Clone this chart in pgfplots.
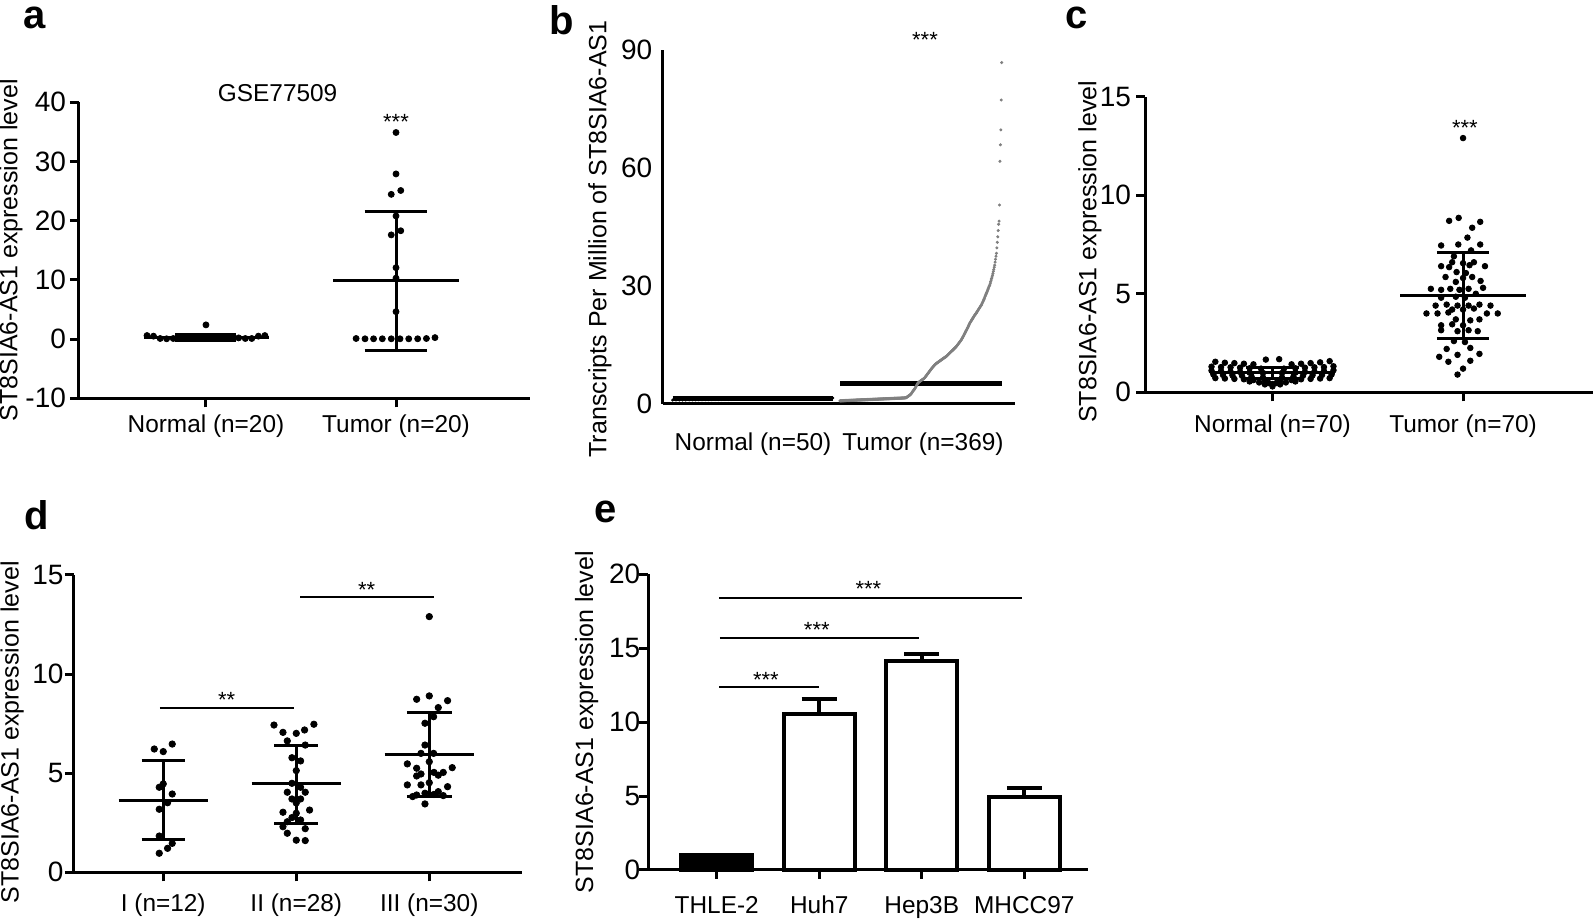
\documentclass[border=0pt]{standalone}
\usepackage{fontspec}
\setmainfont{Liberation Sans}
\usepackage{pgfplots}
\pgfplotsset{compat=1.18}
\definecolor{dotgray}{RGB}{128,128,128}
\pgfplotsset{
  panel/.style={
    anchor=south west, scale only axis, clip=false,
    axis lines*=left,
    axis line style={line width=1.5pt, black},
    tick align=outside, major tick length=4.5pt,
    tick style={line width=1.5pt, black},
    xticklabel style={font=\fontsize{12.2}{14}\selectfont},
    yticklabel style={font=\fontsize{14}{16}\selectfont},
    /pgf/number format/assume math mode=true,
    ylabel style={font=\fontsize{12.5}{14}\selectfont, anchor=center},
  },
  sd/.style={black, line width=1.5pt},
  dots/.style={only marks, mark=*, black, mark size=#1},
}
\tikzset{
  star/.style={font=\fontsize{11}{13}\selectfont, inner sep=0pt, yshift=-2.5pt},
  plabel/.style={font=\fontsize{20}{24}\selectfont\bfseries, inner sep=0pt},
}
\begin{document}
\begin{tikzpicture}
\useasboundingbox (0,0) rectangle (797.5pt,460pt);

% ---------------- panel a ----------------
\begin{axis}[panel, at={(39.5pt,260.85pt)}, width=225.5pt, height=148pt,
  xmin=0.332, xmax=2.705, ymin=-10, ymax=40, ytick={-10,0,10,20,30,40},
  xtick={1,2}, xticklabels={Normal (n=20),Tumor (n=20)},
  yticklabel style={xshift=1.5pt},
  ylabel={ST8SIA6-AS1 expression level},
  ylabel style={at={(axis description cs:-0.151,0.5)}}]
\addplot[dots=1.5pt] coordinates {
 (0.69,0.6) (0.724,0.5) (0.759,0.1) (0.793,0.05) (0.828,0.1) (0.862,0.2) (0.896,0.3)
 (0.931,0.4) (0.965,0.2) (1.0,0.1) (1.034,0.3) (1.069,0.2) (1.103,0.4) (1.138,0.1)
 (1.172,0.2) (1.207,0.1) (1.241,0.1) (1.276,0.5) (1.31,0.6) (1.0,2.4)};
\addplot[dots=1.5pt] coordinates {
 (1.79,0.1) (1.837,0.05) (1.882,0.05) (1.928,0.05) (1.975,0.05) (2.021,0.05)
 (2.067,0.05) (2.114,0.05) (2.16,0.1) (2.205,0.25)
 (2.0,34.9) (2.0,27.9) (2.025,25.1) (1.975,24.45) (2.0,20.8) (2.025,18.3)
 (1.975,17.6) (2.0,12.06) (2.0,10.3) (2.0,4.63)};
\addplot[sd] coordinates {(0.672,0.3) (1.33,0.3)};
\addplot[sd] coordinates {(1.0,-0.25) (1.0,0.85)};
\addplot[sd] coordinates {(0.839,0.85) (1.16,0.85)};
\addplot[sd] coordinates {(0.839,-0.25) (1.16,-0.25)};
\addplot[sd] coordinates {(1.67,9.85) (2.333,9.85)};
\addplot[sd] coordinates {(2.0,-1.96) (2.0,21.6)};
\addplot[sd] coordinates {(1.835,21.6) (2.165,21.6)};
\addplot[sd] coordinates {(1.835,-1.96) (2.165,-1.96)};
\node[font=\fontsize{12.2}{14}\selectfont] at (axis cs:1.377,41.6) {GSE77509};
\node[star] at (axis cs:2.0,37.6) {***};
\end{axis}

% ---------------- panel b ----------------
\begin{axis}[panel, at={(331.35pt,258pt)}, width=176.15pt, height=177pt,
  xmin=0, xmax=352.3, ymin=0, ymax=90, ytick={0,30,60,90},
  major tick length=0pt,
  xtick={90.3,260.3}, xticklabels={Normal (n=50),Tumor (n=369)},
  xticklabel style={yshift=-10.8pt},
  yticklabel style={xshift=-1.7pt},
  ylabel={Transcripts Per Million of ST8SIA6-AS1},
  ylabel style={at={(axis description cs:-0.178,0.466)}}]
\addplot[only marks, mark=*, mark size=0.55pt, black]
 table[row sep=\\, header=false, x expr={10+\coordindex*3.265}, y index=0] {
1.00\\1.01\\1.02\\1.03\\1.04\\1.05\\1.06\\1.07\\1.08\\1.09\\
1.10\\1.11\\1.12\\1.13\\1.14\\1.15\\1.16\\1.17\\1.18\\1.19\\
1.20\\1.21\\1.22\\1.23\\1.24\\1.25\\1.26\\1.27\\1.28\\1.29\\
1.30\\1.31\\1.32\\1.33\\1.34\\1.35\\1.36\\1.37\\1.38\\1.39\\
1.40\\1.41\\1.42\\1.43\\1.44\\1.45\\1.47\\1.49\\1.52\\1.55\\
};
\addplot[only marks, mark=*, mark size=0.55pt, dotgray]
 table[row sep=\\, header=false, x expr={177.3+\coordindex*0.4394}, y index=0] {
0.80\\0.81\\0.81\\0.82\\0.82\\0.83\\0.83\\0.84\\0.84\\0.85\\
0.85\\0.86\\0.86\\0.87\\0.87\\0.88\\0.88\\0.89\\0.89\\0.90\\
0.90\\0.91\\0.91\\0.92\\0.92\\0.93\\0.93\\0.94\\0.94\\0.95\\
0.95\\0.96\\0.96\\0.97\\0.97\\0.98\\0.98\\0.99\\0.99\\1.00\\
1.00\\1.01\\1.01\\1.02\\1.02\\1.03\\1.03\\1.04\\1.04\\1.05\\
1.05\\1.06\\1.06\\1.07\\1.07\\1.08\\1.08\\1.09\\1.09\\1.10\\
1.10\\1.11\\1.11\\1.12\\1.12\\1.13\\1.13\\1.14\\1.14\\1.15\\
1.15\\1.16\\1.16\\1.17\\1.17\\1.18\\1.18\\1.19\\1.19\\1.20\\
1.20\\1.21\\1.21\\1.22\\1.22\\1.23\\1.23\\1.24\\1.24\\1.25\\
1.25\\1.26\\1.26\\1.27\\1.27\\1.28\\1.28\\1.29\\1.29\\1.30\\
1.30\\1.31\\1.31\\1.32\\1.32\\1.33\\1.33\\1.34\\1.34\\1.35\\
1.35\\1.36\\1.36\\1.37\\1.37\\1.38\\1.38\\1.39\\1.39\\1.40\\
1.40\\1.41\\1.41\\1.42\\1.42\\1.43\\1.43\\1.44\\1.44\\1.45\\
1.45\\1.46\\1.46\\1.47\\1.47\\1.48\\1.48\\1.49\\1.49\\1.50\\
1.50\\1.51\\1.51\\1.52\\1.52\\1.53\\1.54\\1.55\\1.56\\1.58\\
1.60\\1.65\\1.72\\1.80\\1.88\\1.96\\2.04\\2.12\\2.20\\2.28\\
2.36\\2.46\\2.60\\2.78\\2.96\\3.12\\3.28\\3.42\\3.55\\3.70\\
3.85\\4.05\\4.25\\4.45\\4.65\\4.85\\5.05\\5.25\\5.40\\5.50\\
5.60\\5.68\\5.76\\5.84\\5.92\\6.00\\6.08\\6.16\\6.24\\6.32\\
6.40\\6.48\\6.56\\6.70\\6.85\\7.00\\7.15\\7.30\\7.45\\7.60\\
7.75\\7.90\\8.05\\8.20\\8.35\\8.50\\8.65\\8.80\\8.95\\9.10\\
9.22\\9.35\\9.48\\9.61\\9.74\\9.87\\10.00\\10.10\\10.20\\10.30\\
10.38\\10.46\\10.54\\10.62\\10.70\\10.78\\10.86\\10.94\\11.02\\11.10\\
11.18\\11.26\\11.34\\11.42\\11.50\\11.58\\11.66\\11.74\\11.82\\11.90\\
11.96\\12.02\\12.10\\12.21\\12.32\\12.43\\12.54\\12.65\\12.76\\12.87\\
12.98\\13.09\\13.20\\13.31\\13.42\\13.53\\13.64\\13.75\\13.86\\13.97\\
14.08\\14.19\\14.30\\14.41\\14.52\\14.65\\14.80\\14.95\\15.10\\15.25\\
15.40\\15.55\\15.70\\15.85\\16.00\\16.15\\16.30\\16.50\\16.70\\16.90\\
17.10\\17.30\\17.52\\17.74\\17.96\\18.18\\18.40\\18.62\\18.84\\19.06\\
19.28\\19.50\\19.75\\20.00\\20.25\\20.50\\20.68\\20.86\\21.04\\21.22\\
21.40\\21.58\\21.76\\21.94\\22.12\\22.30\\22.48\\22.64\\22.80\\22.95\\
23.10\\23.28\\23.46\\23.64\\23.82\\24.00\\24.18\\24.36\\24.54\\24.72\\
24.90\\25.05\\25.20\\25.45\\25.70\\25.95\\26.20\\26.45\\26.70\\26.95\\
27.25\\27.55\\27.85\\28.10\\28.38\\28.66\\28.94\\29.22\\29.50\\29.78\\
30.05\\30.30\\30.70\\31.10\\31.50\\31.90\\32.30\\32.75\\33.20\\33.70\\
34.20\\34.75\\35.30\\36.05\\36.80\\37.55\\38.30\\39.70\\41.10\\42.50\\
44.10\\45.70\\46.50\\50.60\\61.70\\65.90\\69.70\\77.30\\86.80\\
};
\addplot[black, line width=2.5pt] coordinates {(10,1.27) (170.6,1.27)};
\addplot[black, line width=2.5pt] coordinates {(177.3,5.1) (339,5.1)};
\node[star] at (axis cs:262.3,93.8) {***};
\end{axis}

% ---------------- panel c ----------------
\begin{axis}[panel, at={(572.5pt,263.85pt)}, width=224pt, height=147.8pt,
  xmin=0.331, xmax=2.682, ymin=0, ymax=15, ytick={0,5,10,15},
  xtick={1,2}, xticklabels={Normal (n=70),Tumor (n=70)},
  xticklabel style={yshift=-3.2pt},
  yticklabel style={xshift=1pt},
  ylabel={ST8SIA6-AS1 expression level},
  ylabel style={at={(axis description cs:-0.123,0.475)}}]
\addplot[dots=1.4pt] coordinates {
 (0.70,1.55) (0.75,1.50) (0.80,1.48) (0.85,1.45) (0.90,1.42) (0.965,1.66) (1.035,1.68) (1.10,1.42) (1.15,1.45) (1.20,1.48) (1.25,1.52) (1.30,1.58)
 (0.68,1.30) (0.73,1.28) (0.78,1.27) (0.83,1.25) (0.88,1.22) (0.94,1.20) (1.06,1.20) (1.12,1.22) (1.17,1.25) (1.22,1.27) (1.27,1.28) (1.32,1.32)
 (0.68,1.10) (0.73,1.08) (0.78,1.05) (0.83,1.03) (0.88,1.00) (0.95,0.98) (1.05,0.98) (1.12,1.00) (1.17,1.03) (1.22,1.05) (1.27,1.08) (1.32,1.12)
 (0.69,0.90) (0.74,0.88) (0.79,0.86) (0.84,0.84) (0.89,0.80) (0.95,0.75) (1.05,0.75) (1.11,0.80) (1.16,0.84) (1.21,0.86) (1.26,0.88) (1.31,0.90)
 (0.70,0.72) (0.75,0.70) (0.80,0.68) (0.85,0.66) (0.90,0.62) (0.96,0.58) (1.04,0.58) (1.10,0.62) (1.15,0.66) (1.20,0.68) (1.25,0.70) (1.30,0.72)
 (0.88,0.55) (0.93,0.50) (0.98,0.47) (1.02,0.47) (1.07,0.50) (1.12,0.55)
 (0.96,0.40) (1.00,0.42) (1.04,0.40) (1.00,0.30)};
\addplot[dots=1.4pt] coordinates {
 (2.0,12.9) (1.977,8.85) (1.927,8.7) (2.09,8.65) (2.048,8.35) (2.023,7.85)
 (1.885,7.45) (1.975,7.5) (2.09,7.5) (2.042,7.2) (1.952,6.9)
 (1.943,6.6) (2.0,6.55) (2.057,6.6)
 (1.885,6.4) (1.927,6.35) (2.034,6.45) (2.115,6.4)
 (1.966,6.1) (2.015,6.05)
 (1.908,5.85) (2.0,5.8) (2.048,5.85)
 (1.962,5.6) (2.092,5.65)
 (1.831,5.25) (1.885,5.2) (1.933,5.25) (1.981,5.2) (2.029,5.25) (2.105,5.3)
 (2.067,5.0)
 (1.885,4.8) (1.962,4.85) (2.01,4.8)
 (1.856,4.4) (1.914,4.45) (1.971,4.4) (2.029,4.4) (2.086,4.45) (2.144,4.4)
 (1.943,4.2) (2.0,4.2) (2.057,4.25)
 (1.808,4.0) (1.866,4.0) (1.923,4.05) (2.125,4.0) (2.182,4.0)
 (1.962,3.7) (2.038,3.65) (2.086,3.7)
 (1.885,3.4) (1.943,3.45) (2.0,3.4)
 (1.885,3.15) (1.971,3.1) (2.029,3.15) (2.077,3.1)
 (1.952,2.6) (2.01,2.55)
 (1.914,2.2) (2.038,2.25)
 (1.971,1.9) (2.086,1.95)
 (1.875,1.8)
 (1.923,1.55) (2.038,1.6)
 (2.0,1.2) (1.971,0.9)};
\addplot[sd] coordinates {(0.67,1.0) (1.33,1.0)};
\addplot[sd] coordinates {(1.0,0.72) (1.0,1.28)};
\addplot[sd] coordinates {(0.86,1.28) (1.14,1.28)};
\addplot[sd] coordinates {(0.86,0.72) (1.14,0.72)};
\addplot[sd] coordinates {(1.67,4.92) (2.33,4.92)};
\addplot[sd] coordinates {(2.0,2.73) (2.0,7.11)};
\addplot[sd] coordinates {(1.862,7.11) (2.138,7.11)};
\addplot[sd] coordinates {(1.862,2.73) (2.138,2.73)};
\node[star] at (axis cs:2.01,13.69) {***};
\end{axis}

% ---------------- panel d ----------------
\begin{axis}[panel, at={(37pt,23.85pt)}, width=224pt, height=148.65pt,
  xmin=0.329, xmax=3.697, ymin=0, ymax=15, ytick={0,5,10,15},
  xtick={1,2,3}, xticklabels={I (n=12),II (n=28),III (n=30)},
  xticklabel style={yshift=-2.5pt},
  yticklabel style={xshift=2.8pt},
  ylabel={ST8SIA6-AS1 expression level},
  ylabel style={at={(axis description cs:-0.138,0.471)}}]
\addplot[dots=1.6pt] coordinates {
 (1.0675,6.47) (0.9325,6.22) (1.0,6.09) (0.97,4.29) (1.0,4.46) (1.0675,3.95)
 (1.0325,3.51) (0.97,3.18) (0.97,1.83) (1.0675,1.46) (1.0325,1.21) (0.97,0.96)};
\addplot[dots=1.6pt] coordinates {
 (1.8325,7.43) (2.1325,7.47) (2.0625,7.18) (1.9,7.06) (2.0,7.01) (1.9325,6.63)
 (2.0675,6.42) (1.9675,5.78) (2.0325,5.62) (2.0,5.13) (1.9675,4.49) (2.0325,4.29)
 (1.9325,4.04) (2.0675,4.04) (1.9675,3.70) (2.0325,3.70) (2.0,3.50) (1.9,3.03)
 (2.1,3.14) (2.0,2.98) (1.9675,2.76) (2.0325,2.64) (1.9325,2.55) (1.9,2.30)
 (2.0675,2.20) (1.9325,1.97) (2.0,1.62) (2.0675,1.60)};
\addplot[dots=1.6pt] coordinates {
 (3.0,12.9) (2.905,8.73) (3.0,8.9) (3.1375,8.66) (3.0675,8.31) (3.0325,7.85)
 (2.9675,7.52) (2.9675,6.42) (2.9375,6.0) (3.0325,6.0) (3.0,5.58) (2.835,5.47)
 (2.905,5.25) (3.1725,5.28) (2.9375,4.96) (3.035,5.04) (3.105,5.04) (2.905,4.86)
 (3.0,4.52) (2.9375,4.41) (2.835,4.41) (3.1375,4.32) (3.0675,4.07) (2.905,3.9)
 (2.9675,3.99) (3.035,3.93) (3.105,3.87) (2.9675,3.45) (2.875,3.82) (3.0675,4.9)};
\addplot[sd] coordinates {(0.664,3.63) (1.336,3.63)};
\addplot[sd] coordinates {(1.0,1.66) (1.0,5.62)};
\addplot[sd] coordinates {(0.837,5.62) (1.163,5.62)};
\addplot[sd] coordinates {(0.837,1.66) (1.163,1.66)};
\addplot[sd] coordinates {(1.664,4.46) (2.336,4.46)};
\addplot[sd] coordinates {(2.0,2.47) (2.0,6.39)};
\addplot[sd] coordinates {(1.835,6.39) (2.165,6.39)};
\addplot[sd] coordinates {(1.835,2.47) (2.165,2.47)};
\addplot[sd] coordinates {(2.664,5.95) (3.336,5.95)};
\addplot[sd] coordinates {(3.0,3.82) (3.0,8.07)};
\addplot[sd] coordinates {(2.832,8.07) (3.168,8.07)};
\addplot[sd] coordinates {(2.832,3.82) (3.168,3.82)};
\addplot[black, line width=1pt] coordinates {(0.975,8.3) (1.98,8.3)};
\addplot[black, line width=1pt] coordinates {(2.03,13.87) (3.035,13.87)};
\node[star] at (axis cs:1.477,8.95) {**};
\node[star] at (axis cs:2.529,14.5) {**};
\end{axis}

% ---------------- panel e ----------------
\begin{axis}[panel, at={(324.15pt,25pt)}, width=219.85pt, height=147.85pt,
  xmin=0.333, xmax=4.621, ymin=0, ymax=20, ytick={0,5,10,15,20},
  xtick={1,2,3,4}, xticklabels={THLE-2,Huh7,Hep3B,MHCC97},
  xticklabel style={yshift=-5pt},
  yticklabel style={xshift=4pt},
  ylabel={ST8SIA6-AS1 expression level},
  ylabel style={at={(axis description cs:-0.14,0.5)}}]
\addplot[ybar, bar width=0.69, bar shift=0pt, fill=black, draw=black, line width=2pt]
  coordinates {(1,1.01)};
\addplot[ybar, bar width=0.69, bar shift=0pt, fill=white, draw=black, line width=2pt]
  coordinates {(2,10.55) (3,14.14) (4,4.96)};
\addplot[black, line width=2pt] coordinates {(2,10.55) (2,11.55)};
\addplot[black, line width=2pt] coordinates {(1.829,11.55) (2.171,11.55)};
\addplot[black, line width=2pt] coordinates {(3,14.14) (3,14.59)};
\addplot[black, line width=2pt] coordinates {(2.829,14.59) (3.171,14.59)};
\addplot[black, line width=2pt] coordinates {(4,4.96) (4,5.57)};
\addplot[black, line width=2pt] coordinates {(3.829,5.57) (4.171,5.57)};
\addplot[black, line width=1pt] coordinates {(1.023,12.36) (2.0,12.36)};
\addplot[black, line width=1pt] coordinates {(1.03,15.68) (2.977,15.68)};
\addplot[black, line width=1pt] coordinates {(1.022,18.42) (3.976,18.42)};
\node[star] at (axis cs:1.48,13.19) {***};
\node[star] at (axis cs:1.976,16.57) {***};
\node[star] at (axis cs:2.479,19.33) {***};
\end{axis}

% panel letters
\node[plabel] at (17.5pt,451pt) {a};
\node[plabel] at (280.8pt,450pt) {b};
\node[plabel] at (538.4pt,451pt) {c};
\node[plabel] at (18.3pt,202.5pt) {d};
\node[plabel] at (303pt,204.2pt) {e};
\end{tikzpicture}
\end{document}
